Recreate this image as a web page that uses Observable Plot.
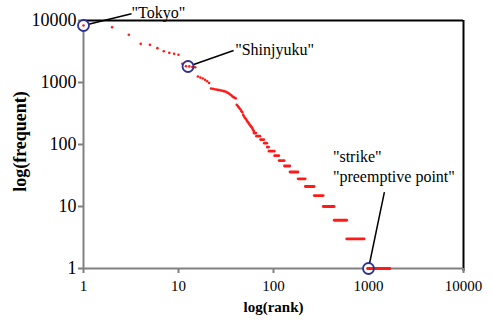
<!DOCTYPE html>
<html>
<head>
<meta charset="utf-8">
<script src="https://cdn.jsdelivr.net/npm/d3@7"></script>
<script src="https://cdn.jsdelivr.net/npm/@observablehq/plot@0.6"></script>
<style>
  html, body { margin: 0; padding: 0; background: #fff; }
  #chart svg { display: block; }
</style>
</head>
<body>
<div id="chart"></div>
<script>
// ---- data: individual ranks (head of the distribution) ----
const headRank = [1,2,3,4,5,6,7,8,9,10,11,12,13,14,15,16,17,18,19,20,
                  21,22,23,24,25,26,27,28,29,30,31,32,33,34,35,36,37,38,39,40,
                  41,42,43,44,45,46,47,48,49,50,51,52,53,54,55,56,57,58,59,60,61,62];
const headFreq = [8300,7800,5880,4200,4050,3580,3200,3010,2900,2800,
                  2000,1830,1820,1780,1760,1250,1200,1160,1110,1050,
                  980,800,790,780,770,760,755,745,735,725,
                  716,700,685,665,640,620,595,580,565,555,
                  437,418,400,380,367,345,330,300,283,270,
                  260,248,237,228,218,210,203,196,190,180,172,165];

// ---- data: runs of ranks sharing one frequency (tail) ----
const tailFreq      = [153,136,120,105,91,78,66,55,45,36,28,21,15,10,6,3,1];
const tailRankStart = [63,67,74,81,87,91,104,116,132,151,184,219,272,338,441,597,990];
const tailRankEnd   = [66,73,80,86,90,103,115,131,150,183,218,271,337,440,596,910,1700];

// ---- ticks & titles ----
const xTicks = [1,10,100,1000,10000];
const yTicks = [1,10,100,1000,10000];
const xTitle = "log(rank)";
const yTitle = "log(frequent)";

// ---- annotations ----
const annoRank = [1, 12.6, 1000];
const annoFreq = [8300, 1810, 1];
const leadRank = [3.2, 38, 1470];
const leadFreq = [12800, 3280, 17];
const labelText = ['"Tokyo"', '"Shinjyuku"', '"strike"', '"preemptive point"'];
const labelRank = [3.2, 39.5, 422, 422];
const labelFreq = [13500, 3300, 62, 30.6];

// ---- tables built from the arrays ----
const head = headRank.map((r, i) => ({rank: r, freq: headFreq[i]}));
const tail = tailFreq.map((f, i) => ({freq: f, r1: tailRankStart[i], r2: tailRankEnd[i]}));
const anno = annoRank.map((r, i) => ({rank: r, freq: annoFreq[i], lr: leadRank[i], lf: leadFreq[i]}));
const labels = labelText.map((t, i) => ({text: t, rank: labelRank[i], freq: labelFreq[i]}));

const RED = "#ff1a1a";
const NAVY = "#2e3192";
const GRAY = "#808080";
const FONT = "'Liberation Serif', 'Times New Roman', serif";

const chart = Plot.plot({
  width: 492,
  height: 320,
  marginLeft: 83,
  marginRight: 29,
  marginTop: 20,
  marginBottom: 52,
  x: {type: "log", domain: [1, 10000]},
  y: {type: "log", domain: [1, 10000]},
  style: {fontFamily: FONT, background: "#fff", color: "#000"},
  marks: [
    // frame: top & right in black
    Plot.ruleY([10000], {stroke: "#000", strokeWidth: 2}),
    Plot.ruleX([10000], {stroke: "#000", strokeWidth: 2, insetBottom: -3}),
    // axes
    Plot.axisX({ticks: xTicks, tickFormat: d3.format("d"), tickSize: 5, tickPadding: 7,
                stroke: GRAY, strokeWidth: 2, fill: "#000", fontSize: 15, fontFamily: FONT, label: null}),
    Plot.axisY({ticks: yTicks, tickFormat: d3.format("d"), tickSize: 5, tickPadding: 2,
                stroke: GRAY, strokeWidth: 2, fill: "#000", fontSize: 18, fontFamily: FONT, label: null}),
    Plot.ruleX([1], {stroke: GRAY, strokeWidth: 2}),
    Plot.ruleY([1], {stroke: GRAY, strokeWidth: 2}),
    // leader lines
    Plot.link(anno, {x1: "rank", y1: "freq", x2: "lr", y2: "lf", stroke: "#000", strokeWidth: 1.5}),
    // circle interiors
    Plot.dot(anno, {x: "rank", y: "freq", r: 5.5, fill: "#fff", stroke: null}),
    // data
    Plot.ruleY(tail, {y: "freq", x1: "r1", x2: "r2", stroke: RED, strokeWidth: 2.8, strokeLinecap: "round"}),
    Plot.dot(head, {x: "rank", y: "freq", r: 1.3, fill: RED, stroke: null}),
    // circles
    Plot.dot(anno, {x: "rank", y: "freq", r: 5.5, fill: "none", stroke: NAVY, strokeWidth: 1.8}),
    // labels
    Plot.text(labels, {x: "rank", y: "freq", text: "text", textAnchor: "start", lineAnchor: "middle",
                       fontSize: 16, fontFamily: FONT, fill: "#000"}),
    // axis titles
    Plot.text([xTitle], {frameAnchor: "bottom", textAnchor: "middle", lineAnchor: "middle", dy: 39,
                         fontSize: 15, fontFamily: FONT, fontWeight: "bold", fill: "#000"}),
    Plot.text([yTitle], {frameAnchor: "left", textAnchor: "middle", lineAnchor: "middle", rotate: -90,
                         dx: -63, dy: -3, fontSize: 18, fontFamily: FONT, fontWeight: "bold", fill: "#000"})
  ]
});
document.getElementById("chart").appendChild(chart);
</script>
</body>
</html>
